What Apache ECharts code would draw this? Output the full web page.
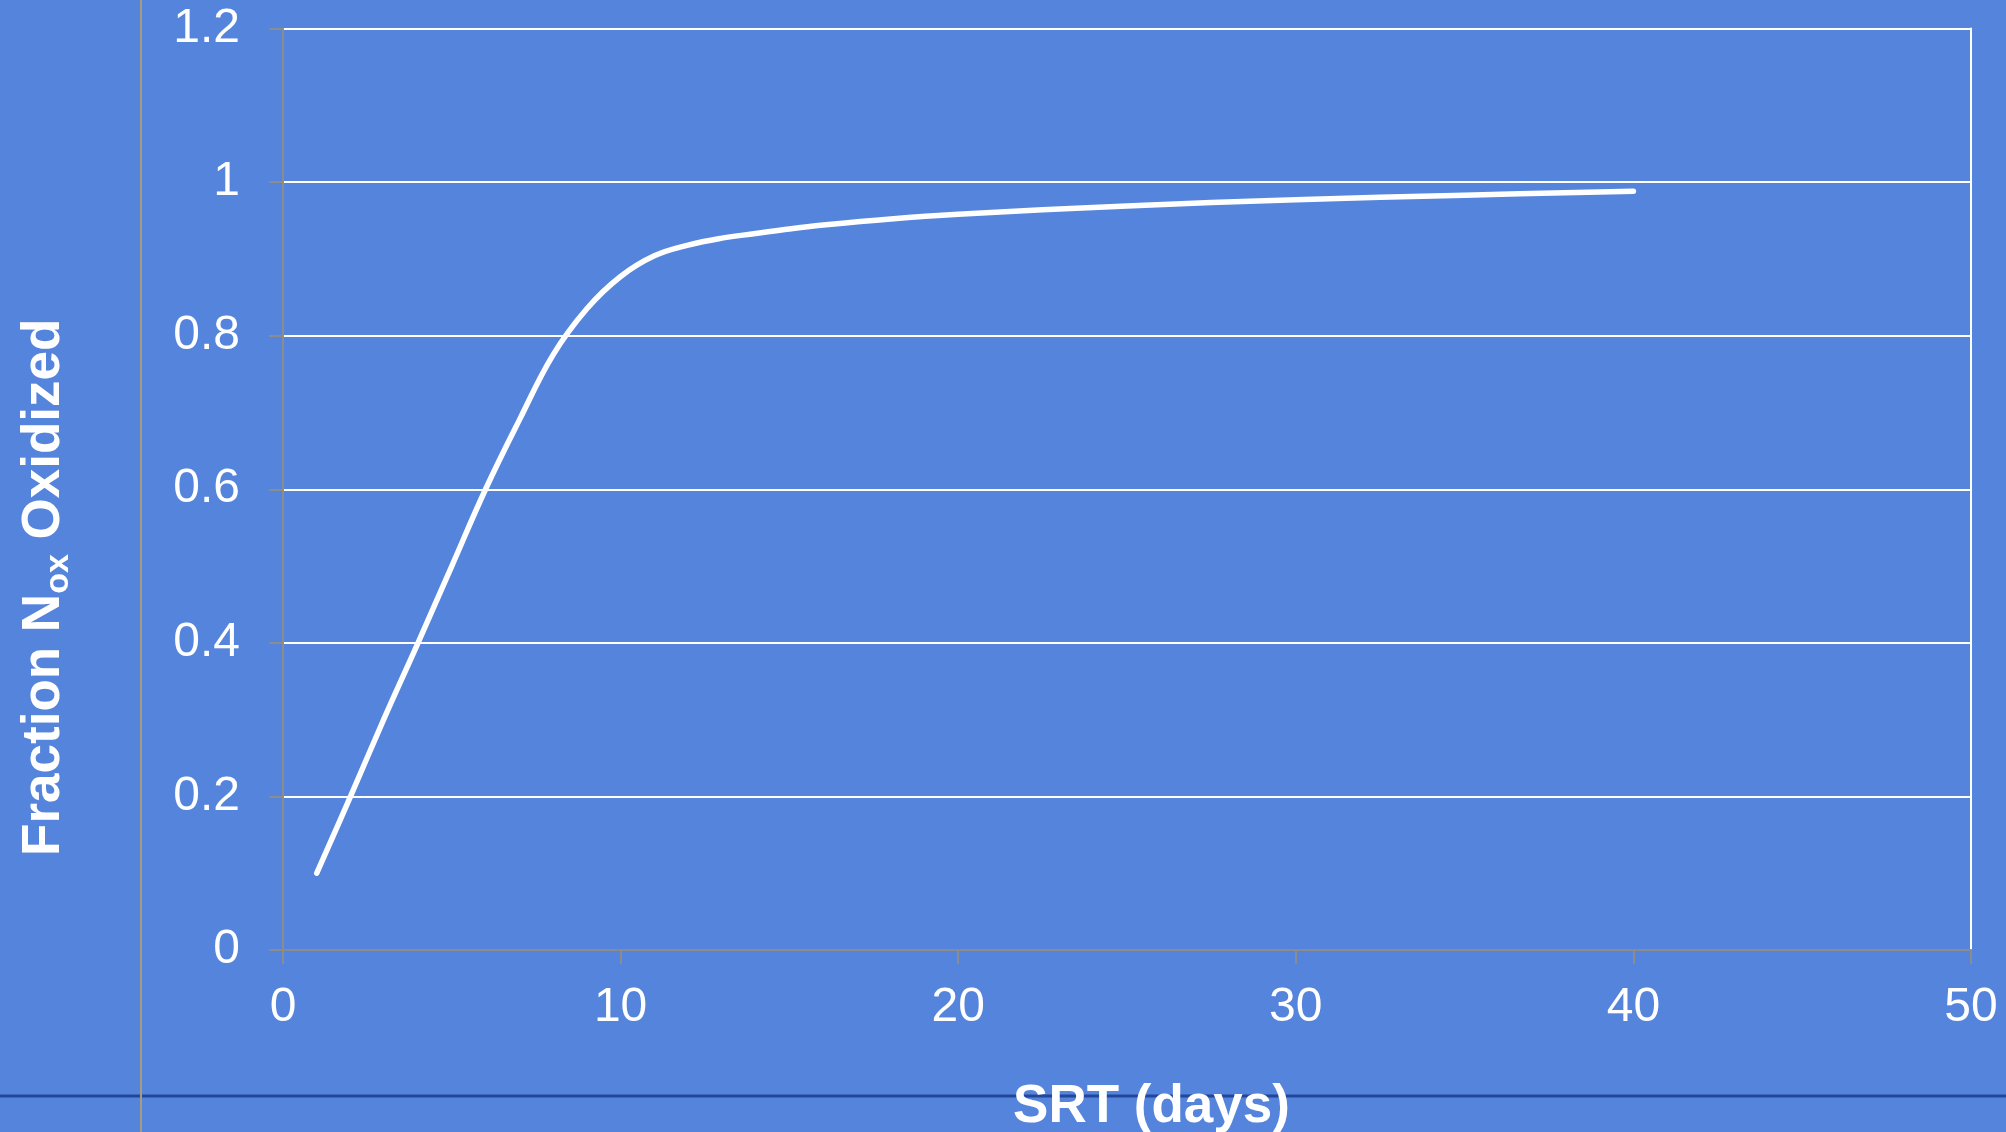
<!DOCTYPE html>
<html>
<head>
<meta charset="utf-8">
<title>Fraction Nox Oxidized vs SRT</title>
<script src="https://cdn.jsdelivr.net/npm/echarts@6/dist/echarts.min.js"></script>
<style>
  html, body { margin: 0; padding: 0; background: #5584DC; }
  #chart { width: 2006px; height: 1132px; }
</style>
</head>
<body>
<div id="chart"></div>
<script>
// Solids retention time (days) and the fraction of NOx oxidized
const srtDays = [1, 2, 3, 4, 5, 6, 7, 8, 9, 10, 11, 12, 13, 14, 15, 16, 18, 20, 25, 30, 35, 40];
const fractionOxidized = [0.10, 0.20, 0.302, 0.40, 0.50, 0.60, 0.69, 0.775, 0.835, 0.877, 0.904, 0.918,
                          0.927, 0.933, 0.939, 0.944, 0.952, 0.958, 0.969, 0.977, 0.983, 0.988];

// Axis ranges
const xRange = { min: 0, max: 50, step: 10 };
const yRange = { min: 0, max: 1.2, step: 0.2 };

const FONT = '"Liberation Sans", Arial, sans-serif';
const GRAY = '#8C8C8C';

const chart = echarts.init(document.getElementById('chart'), null, { renderer: 'canvas' });

chart.setOption({
  backgroundColor: '#5584DC',
  animation: false,
  textStyle: { fontFamily: FONT },
  grid: {
    left: 283, right: 35, top: 28.5, bottom: 182,
    containLabel: false,
    outerBoundsMode: 'none'
  },
  graphic: [
    {
      type: 'line', z: -10, silent: true,
      shape: { x1: 0, y1: 1096, x2: 2006, y2: 1096 },
      style: { stroke: '#22479A', lineWidth: 3 }
    },
    {
      type: 'line', z: -9, silent: true,
      shape: { x1: 141, y1: 0, x2: 141, y2: 1132 },
      style: { stroke: '#A89C7C', lineWidth: 2 }
    }
  ],
  xAxis: {
    type: 'value',
    min: xRange.min, max: xRange.max, interval: xRange.step,
    name: 'SRT (days)',
    nameLocation: 'middle',
    nameGap: 131,
    nameTextStyle: {
      color: '#fff', fontSize: 53, fontWeight: 'bold', fontFamily: FONT,
      padding: [0, 0, 0, 49]
    },
    axisLine: { show: true, onZero: false, lineStyle: { color: GRAY, width: 2 } },
    axisTick: { show: true, length: 14, lineStyle: { color: GRAY, width: 2 } },
    axisLabel: { color: '#fff', fontSize: 48, fontFamily: FONT, margin: 34 },
    splitLine: { show: false }
  },
  yAxis: [
    {
      type: 'value',
      min: yRange.min, max: yRange.max, interval: yRange.step,
      name: '{a|Fraction N}{b|ox}{a| Oxidized}',
      nameLocation: 'middle',
      nameRotate: 90,
      nameGap: 204,
      nameTextStyle: {
        color: '#fff', fontFamily: FONT,
        padding: [0, 196, 0, 0],
        rich: {
          a: { color: '#fff', fontSize: 53, fontWeight: 'bold', fontFamily: FONT, lineHeight: 70 },
          b: { color: '#fff', fontSize: 34, fontWeight: 'bold', fontFamily: FONT, lineHeight: 34,
               verticalAlign: 'top', padding: [33, 0, 0, 0] }
        }
      },
      axisLine: { show: true, lineStyle: { color: GRAY, width: 2 } },
      axisTick: { show: true, length: 14, lineStyle: { color: GRAY, width: 2 } },
      axisLabel: {
        color: '#fff', fontSize: 48, fontFamily: FONT, margin: 43,
        formatter: v => String(Math.round(v * 10) / 10)
      },
      splitLine: { show: true, lineStyle: { color: '#ffffff', width: 2 } }
    },
    {
      // right-hand frame edge of the plot area
      type: 'value', position: 'right',
      min: yRange.min, max: yRange.max, interval: yRange.step,
      axisLine: { show: true, lineStyle: { color: '#ffffff', width: 2 } },
      axisTick: { show: false },
      axisLabel: { show: false },
      splitLine: { show: false }
    }
  ],
  series: [
    {
      type: 'line',
      data: srtDays.map((d, i) => [d, fractionOxidized[i]]),
      smooth: 0.4,
      showSymbol: false,
      lineStyle: { color: '#ffffff', width: 5.5, cap: 'round', join: 'round' },
      z: 3
    }
  ]
});
</script>
</body>
</html>
